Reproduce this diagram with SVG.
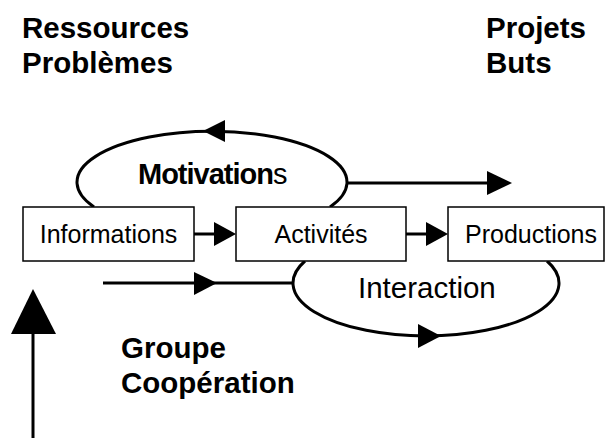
<svg xmlns="http://www.w3.org/2000/svg" width="610" height="438" viewBox="0 0 610 438">
<style>
.lbl{font-family:"Liberation Sans",Arial,sans-serif;font-weight:bold;font-size:29.5px;fill:#000}
.box{fill:#fff;stroke:#000;stroke-width:1.5}
.bt{font-family:"Liberation Sans",Arial,sans-serif;font-size:25px;fill:#000;text-anchor:middle}
.ln{stroke:#000;stroke-width:3;fill:none}
.ah{fill:#000;stroke:none}
</style>
<rect width="610" height="438" fill="#fff"/>
<g id="labels">
<text class="lbl" x="22" y="38">Ressources</text>
<text class="lbl" x="22" y="73">Problèmes</text>
<text class="lbl" x="486" y="38">Projets</text>
<text class="lbl" x="486" y="73">Buts</text>
<text class="lbl" x="121" y="358">Groupe</text>
<text class="lbl" x="121" y="393">Coopération</text>
</g>
<g id="motivations">
<path class="ln" d="M94,207 A135,51 0 1 1 330,207"/>
<text x="138" y="184" font-family="Liberation Sans, Arial, sans-serif" font-size="29" fill="#000"><tspan font-weight="bold" letter-spacing="-1">Motivation</tspan><tspan>s</tspan></text>
</g>
<g id="interaction">
<path class="ln" d="M305,261 A133,53 0 1 0 547,261"/>
<text x="358" y="298" font-family="Liberation Sans, Arial, sans-serif" font-size="29.5" fill="#000">Interaction</text>
</g>
<g id="connectors">
<polygon class="ah" points="203,131 225,120 225,142"/>
<polygon class="ah" points="441,336 418,324 418,348"/>
<line class="ln" x1="347" y1="183" x2="490" y2="183"/>
<polygon class="ah" points="512,183 487,171 487,195"/>
<line class="ln" x1="103" y1="283" x2="293" y2="283"/>
<polygon class="ah" points="217,283 194,272 194,295"/>
<line class="ln" x1="194" y1="234" x2="216" y2="234"/>
<polygon class="ah" points="236,234 214,222 214,246"/>
<line class="ln" x1="406" y1="234" x2="428" y2="234"/>
<polygon class="ah" points="448,234 426,222 426,246"/>
<line class="ln" x1="33" y1="438" x2="33" y2="330"/>
<polygon class="ah" points="33,289 11,334 56,334"/>
</g>
<g id="informations">
<rect class="box" x="23" y="207" width="171" height="54"/>
<text class="bt" x="108.5" y="243">Informations</text>
</g>
<g id="activites">
<rect class="box" x="236" y="207" width="170" height="54"/>
<text class="bt" x="321" y="243">Activités</text>
</g>
<g id="productions">
<rect class="box" x="448" y="207" width="156" height="54"/>
<text class="bt" x="531" y="243">Productions</text>
</g>
</svg>
